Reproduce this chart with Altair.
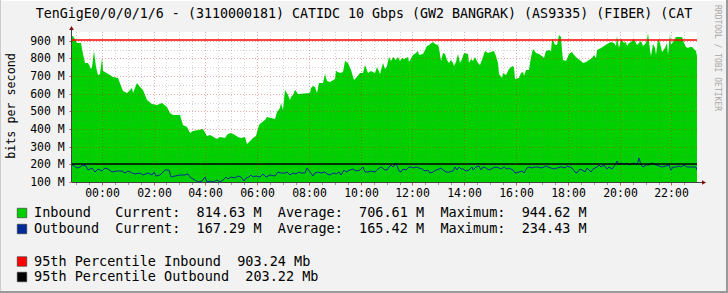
import altair as alt
import pandas as pd

FONT = "DejaVu Sans Mono"

TITLE = "TenGigE0/0/0/1/6 - (3110000181) CATIDC 10 Gbps (GW2 BANGRAK) (AS9335) (FIBER) (CAT"
Y_TITLE = "bits per second"
WATERMARK = "RRDTOOL / TOBI OETIKER"

# (hour relative to midnight, Mbit/s)
inbound = [
    (-1.15, 927), (-1.12, 927), (-0.97, 889), (-0.81, 885), (-0.75, 853), (-0.64, 776),
    (-0.52, 772), (-0.42, 738), (-0.37, 753), (-0.30, 844), (-0.22, 753), (-0.13, 706),
    (-0.07, 710), (0.01, 800), (0.06, 730), (0.13, 725), (0.45, 697), (0.64, 687),
    (0.83, 615), (0.97, 602), (1.16, 630), (1.22, 606), (1.35, 659), (1.48, 640),
    (1.61, 621), (1.74, 564), (1.93, 542), (2.12, 536), (2.32, 546), (2.53, 523),
    (2.64, 493), (2.76, 479), (3.02, 477), (3.15, 423), (3.28, 410), (3.41, 379),
    (3.54, 391), (3.92, 398), (4.05, 360), (4.18, 364), (4.44, 345), (4.57, 357),
    (4.76, 347), (4.83, 366), (4.88, 372), (5.00, 376), (5.13, 366), (5.26, 353),
    (5.39, 347), (5.52, 353), (5.62, 313), (5.71, 334), (5.84, 347), (5.97, 360),
    (6.06, 423), (6.16, 432), (6.29, 451), (6.40, 466), (6.55, 461), (6.68, 455),
    (6.78, 498), (6.87, 517), (6.94, 549), (7.00, 508), (7.09, 621), (7.19, 593),
    (7.26, 564), (7.32, 583), (7.39, 593), (7.45, 621), (7.51, 617), (7.58, 598),
    (8.03, 602), (8.09, 630), (8.16, 644), (8.25, 636), (8.32, 606), (8.38, 659),
    (8.54, 662), (8.61, 712), (8.70, 674), (8.80, 668), (9.00, 681), (9.06, 730),
    (9.19, 719), (9.32, 725), (9.41, 785), (9.51, 772), (9.64, 734), (9.74, 678),
    (9.83, 687), (9.96, 715), (10.09, 719), (10.18, 763), (10.28, 719), (10.41, 730),
    (10.54, 715), (10.64, 753), (10.73, 710), (10.86, 776), (10.95, 738), (11.00, 760),
    (11.08, 806), (11.17, 787), (11.26, 810), (11.36, 791), (11.43, 806), (11.52, 787),
    (11.59, 800), (11.68, 795), (11.81, 806), (11.88, 781), (12.01, 819), (12.14, 829),
    (12.20, 844), (12.26, 819), (12.39, 825), (12.50, 848), (12.55, 870), (12.65, 876),
    (12.78, 895), (12.88, 881), (12.97, 876), (13.04, 857), (13.10, 787), (13.17, 832),
    (13.27, 825), (13.33, 791), (13.40, 772), (13.49, 791), (13.55, 772), (13.61, 757),
    (13.68, 781), (13.75, 825), (13.83, 776), (13.91, 795), (13.98, 829), (14.13, 825),
    (14.19, 772), (14.26, 795), (14.35, 787), (14.42, 810), (14.52, 772), (14.61, 763),
    (14.71, 810), (14.80, 844), (14.90, 829), (15.03, 838), (15.16, 844), (15.22, 814),
    (15.29, 772), (15.35, 712), (15.46, 687), (15.51, 715), (15.61, 706), (15.71, 738),
    (15.80, 753), (15.87, 757), (15.93, 744), (15.97, 682), (16.10, 687), (16.19, 715),
    (16.25, 725), (16.32, 700), (16.38, 734), (16.51, 734), (16.58, 810), (16.64, 851),
    (16.77, 832), (16.90, 825), (17.03, 810), (17.08, 800), (17.14, 844), (17.27, 848),
    (17.34, 844), (17.39, 908), (17.44, 904), (17.50, 876), (17.59, 876), (17.66, 932),
    (17.72, 919), (17.79, 848), (17.82, 791), (17.91, 787), (17.98, 795), (18.04, 825),
    (18.17, 838), (18.24, 819), (18.36, 800), (18.49, 787), (18.60, 776), (18.69, 781),
    (18.81, 791), (18.94, 800), (19.01, 819), (19.07, 800), (19.14, 848), (19.27, 857),
    (19.39, 870), (19.52, 881), (19.65, 895), (19.78, 889), (19.85, 870), (19.91, 927),
    (19.97, 857), (20.06, 908), (20.17, 885), (20.23, 895), (20.29, 870), (20.36, 885),
    (20.45, 895), (20.55, 908), (20.62, 885), (20.68, 876), (20.75, 889), (20.83, 900),
    (20.91, 870), (21.00, 885), (21.07, 902), (21.10, 944), (21.17, 848), (21.22, 814),
    (21.27, 881), (21.35, 857), (21.41, 819), (21.48, 908), (21.56, 885), (21.65, 838),
    (21.74, 857), (21.81, 885), (21.87, 819), (21.94, 938), (21.99, 876), (22.07, 895),
    (22.16, 919), (22.29, 923), (22.42, 919), (22.48, 889), (22.55, 866), (22.64, 857),
    (22.71, 866), (22.80, 863), (22.87, 851), (22.95, 844), (22.99, 815),
]

outbound = [
    (-1.15, 196), (-1.12, 196), (-0.97, 177), (-0.84, 187), (-0.71, 196), (-0.61, 191),
    (-0.52, 168), (-0.39, 177), (-0.26, 158), (-0.13, 172), (0.00, 164), (0.13, 177),
    (0.26, 172), (0.39, 158), (0.58, 164), (0.77, 164), (0.90, 153), (1.03, 164),
    (1.16, 149), (1.29, 145), (1.48, 149), (1.61, 138), (1.80, 149), (1.93, 140),
    (2.02, 158), (2.10, 136), (2.25, 140), (2.44, 168), (2.60, 168), (2.66, 130),
    (2.83, 136), (3.02, 138), (3.22, 140), (3.34, 145), (3.44, 121), (3.60, 111),
    (3.73, 102), (3.86, 108), (3.99, 130), (4.05, 102), (4.18, 108), (4.31, 102),
    (4.44, 111), (4.57, 102), (4.70, 111), (4.80, 130), (4.89, 115), (5.00, 126),
    (5.13, 121), (5.26, 134), (5.39, 130), (5.49, 108), (5.58, 121), (5.67, 130),
    (5.75, 140), (5.84, 130), (5.97, 134), (6.10, 130), (6.23, 145), (6.36, 130),
    (6.48, 140), (6.68, 134), (6.81, 158), (6.94, 153), (7.06, 149), (7.17, 158),
    (7.26, 140), (7.39, 153), (7.51, 145), (7.60, 158), (7.71, 149), (7.84, 153),
    (7.94, 177), (8.03, 158), (8.16, 134), (8.25, 153), (8.35, 158), (8.48, 149),
    (8.61, 158), (8.71, 145), (8.80, 140), (8.93, 149), (9.06, 145), (9.15, 158),
    (9.25, 140), (9.36, 168), (9.45, 158), (9.58, 168), (9.70, 172), (9.83, 164),
    (9.96, 168), (10.09, 183), (10.18, 158), (10.28, 158), (10.41, 164), (10.54, 158),
    (10.67, 172), (10.80, 183), (10.92, 168), (11.00, 170), (11.08, 183), (11.17, 196),
    (11.26, 187), (11.36, 206), (11.47, 164), (11.56, 158), (11.65, 172), (11.75, 168),
    (11.85, 183), (11.94, 187), (12.03, 177), (12.14, 187), (12.24, 177), (12.37, 172),
    (12.50, 164), (12.59, 168), (12.68, 149), (12.78, 158), (12.91, 168), (13.01, 172),
    (13.10, 177), (13.19, 168), (13.29, 158), (13.42, 158), (13.55, 164), (13.65, 183),
    (13.71, 168), (13.78, 187), (13.87, 172), (13.96, 172), (14.07, 164), (14.19, 168),
    (14.30, 183), (14.35, 168), (14.45, 187), (14.55, 191), (14.64, 168), (14.73, 183),
    (14.84, 177), (14.97, 168), (15.10, 177), (15.22, 187), (15.33, 177), (15.42, 172),
    (15.55, 187), (15.63, 172), (15.74, 177), (15.87, 168), (15.97, 153), (16.10, 158),
    (16.23, 164), (16.32, 153), (16.41, 177), (16.51, 187), (16.61, 177), (16.70, 183),
    (16.83, 183), (16.96, 177), (17.09, 183), (17.14, 191), (17.23, 183), (17.33, 177),
    (17.46, 172), (17.59, 177), (17.72, 187), (17.79, 183), (17.87, 177), (17.98, 191),
    (18.08, 187), (18.17, 177), (18.26, 158), (18.36, 153), (18.47, 172), (18.56, 168),
    (18.65, 158), (18.75, 177), (18.88, 158), (18.98, 172), (19.11, 187), (19.20, 196),
    (19.29, 183), (19.39, 196), (19.50, 172), (19.59, 183), (19.72, 172), (19.80, 196),
    (19.91, 221), (19.99, 196), (20.06, 209), (20.17, 202), (20.27, 206), (20.36, 196),
    (20.45, 202), (20.55, 206), (20.66, 196), (20.75, 234), (20.81, 196), (20.91, 187),
    (21.00, 196), (21.13, 196), (21.26, 206), (21.39, 196), (21.52, 191), (21.65, 187),
    (21.78, 191), (21.90, 196), (21.97, 168), (22.07, 187), (22.16, 183), (22.29, 191),
    (22.38, 187), (22.48, 196), (22.61, 187), (22.74, 183), (22.87, 183), (22.95, 187),
    (22.99, 168),
]

series_names = ["Inbound", "Outbound"]
series_colors = ["#00CF00", "#002A97"]
current = [814.63, 167.29]
average = [706.61, 165.42]
maximum = [944.62, 234.43]

pct_labels = ["95th Percentile Inbound", "95th Percentile Outbound"]
pct_values = [903.24, 203.22]
pct_colors = ["#FF0000", "#000000"]

x_domain = [-1.147, 22.985]
y_domain = [100, 950]
x_major = list(range(0, 23, 2))
x_minor = [h / 2 for h in range(-2, 46) if h % 4 != 0]
y_major = list(range(100, 901, 100))
y_minor = list(range(150, 901, 100))

W, H = 625, 150
NB = "\u00a0"

df_in = pd.DataFrame(inbound, columns=["h", "v"])
df_out = pd.DataFrame(outbound, columns=["h", "v"])
df_pct = pd.DataFrame({"name": pct_labels, "v": pct_values})

xscale = alt.Scale(domain=x_domain, nice=False, zero=False, round=True)
yscale = alt.Scale(domain=y_domain, nice=False, zero=False, round=True)

x_axis = alt.Axis(
    values=x_major, title=None, domain=False, grid=False,
    tickSize=3, tickColor="#C06060",
    labelExpr="(datum.value < 10 ? '0' : '') + datum.value + ':00'",
    labelFont=FONT, labelFontSize=11.5, labelColor="#000000",
    labelBaseline="middle", labelPadding=8.5, labelOverlap=False, labelFlush=False,
)
y_axis = alt.Axis(
    values=y_major, title=None, domain=False, grid=False,
    tickSize=3, tickColor="#C06060",
    labelExpr="datum.value + ' M'",
    labelFont=FONT, labelFontSize=11.5, labelColor="#000000",
    labelPadding=4.7, labelOverlap=False,
)


def X(field="h:Q"):
    return alt.X(field, scale=xscale, axis=x_axis)


def Y(field="v:Q"):
    return alt.Y(field, scale=yscale, axis=y_axis)


area = alt.Chart(df_in).mark_area(color=series_colors[0], clip=True).encode(x=X(), y=Y())
line = alt.Chart(df_out).mark_line(color=series_colors[1], strokeWidth=1, clip=True).encode(
    x=X(), y=Y())
pct = alt.Chart(df_pct).mark_rule(strokeWidth=1.5).encode(
    y=Y(),
    x=alt.value(0), x2=alt.value(W),
    color=alt.Color("name:N", scale=alt.Scale(domain=pct_labels, range=pct_colors), legend=None),
)


def vgrid(hours, color, op):
    return alt.Chart(pd.DataFrame({"h": hours})).mark_rule(
        color=color, strokeDash=[1, 2], strokeWidth=1, opacity=op, xOffset=0.5
    ).encode(x=X(), y=alt.value(0), y2=alt.value(H))


def hgrid(vals, color, op):
    return alt.Chart(pd.DataFrame({"v": vals})).mark_rule(
        color=color, strokeDash=[1, 2], strokeWidth=1, opacity=op, yOffset=0.5
    ).encode(y=Y(), x=alt.value(0), x2=alt.value(W))


minor_ticks = alt.Chart(pd.DataFrame({"h": x_minor})).mark_rule(
    color="#999999", strokeWidth=1, xOffset=0.5
).encode(x=X(), y=alt.value(H), y2=alt.value(H + 3))


def text_layer(s, x, y, size, color="#000000", align="left", angle=0):
    return alt.Chart(pd.DataFrame({"t": [s.replace(" ", NB)]})).mark_text(
        font=FONT, fontSize=size, align=align, baseline="middle", color=color, angle=angle
    ).encode(text="t:N", x=alt.value(x), y=alt.value(y))


def box_layer(color, x, y):
    return alt.Chart(pd.DataFrame({"c": [color]})).mark_square(
        size=90, opacity=1, filled=True, color=color, stroke="#333333", strokeWidth=0.6
    ).encode(x=alt.value(x), y=alt.value(y))


MIN_C, MIN_OP = "#7A7A7A", 0.32
MAJ_C, MAJ_OP = "#C01818", 0.36

layers = [
    area,
    vgrid(x_minor, MIN_C, MIN_OP), vgrid(x_major, MAJ_C, MAJ_OP),
    hgrid(y_minor, MIN_C, MIN_OP), hgrid([v for v in y_major if v > 100], MAJ_C, MAJ_OP),
    line, pct, minor_ticks,
]

# axis lines and arrows
layers.append(alt.Chart(pd.DataFrame({"a": [0]})).mark_rule(color="#404040", strokeWidth=1).encode(
    x=alt.value(-0.5), y=alt.value(H), y2=alt.value(-4)))
layers.append(alt.Chart(pd.DataFrame({"a": [0]})).mark_rule(color="#404040", strokeWidth=1).encode(
    x=alt.value(0), x2=alt.value(W + 6), y=alt.value(H + 0.5)))
layers.append(alt.Chart(pd.DataFrame({"a": [0]})).mark_point(
    shape="triangle-up", filled=True, size=22, color="#7F1010", opacity=1).encode(
    x=alt.value(-0.5), y=alt.value(-4)))
layers.append(alt.Chart(pd.DataFrame({"a": [0]})).mark_point(
    shape="triangle-right", filled=True, size=22, color="#7F1010", opacity=1).encode(
    x=alt.value(W + 7), y=alt.value(H + 0.5)))

# titles
layers.append(text_layer(TITLE, 292, -18, 13.3, align="center"))
layers.append(text_layer(Y_TITLE, -61, 74, 11.7, align="center", angle=270))
layers.append(text_layer(WATERMARK, 645, -27, 8, color="#A8A8A8", angle=90))

# legend
leg_y = [181, 197]
for i in range(2):
    s = (f"{series_names[i]:<10}Current:  {current[i]:.2f} M  "
         f"Average:  {average[i]:.2f} M  Maximum:  {maximum[i]:.2f} M")
    layers.append(box_layer(series_colors[i], -50, leg_y[i]))
    layers.append(text_layer(s, -38, leg_y[i], 13.5))
pct_y = [229.5, 245]
for i in range(2):
    s = f"{pct_labels[i]}  {pct_values[i]:.2f} Mb"
    layers.append(box_layer(pct_colors[i], -50, pct_y[i]))
    layers.append(text_layer(s, -38, pct_y[i], 13.5))

# frame shading
layers.append(alt.Chart(pd.DataFrame({"a": [0]})).mark_rule(color="#FFFFFF", strokeWidth=1).encode(
    x=alt.value(-72), x2=alt.value(656), y=alt.value(-31.5)))
layers.append(alt.Chart(pd.DataFrame({"a": [0]})).mark_rule(color="#CBCBCB", strokeWidth=1).encode(
    x=alt.value(-71.5), y=alt.value(-32), y2=alt.value(261)))
layers.append(alt.Chart(pd.DataFrame({"a": [0]})).mark_rule(color="#999999", strokeWidth=2).encode(
    x=alt.value(655), y=alt.value(-32), y2=alt.value(261)))
layers.append(alt.Chart(pd.DataFrame({"a": [0]})).mark_rule(color="#999999", strokeWidth=2).encode(
    x=alt.value(-72), x2=alt.value(656), y=alt.value(260)))

chart = alt.layer(*layers).properties(
    width=W, height=H,
    padding={"left": 72, "top": 32, "right": 31, "bottom": 111},
    autosize=alt.AutoSizeParams(type="none"),
).configure(background="#F2F2F2").configure_view(fill="#FFFFFF", strokeWidth=0).configure_axis(
    labelOverlap=False
)

chart.save("out.html", embed_options={"renderer": "svg", "actions": False})
